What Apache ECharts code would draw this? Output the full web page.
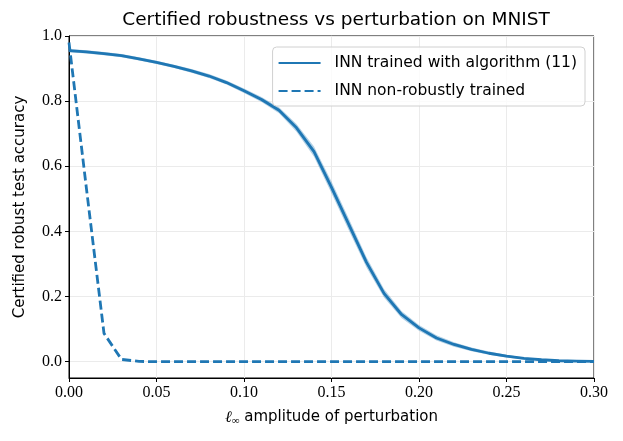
<!DOCTYPE html>
<html>
<head>
<meta charset="utf-8">
<script src="https://cdn.jsdelivr.net/npm/echarts@6/dist/echarts.min.js"></script>
<style>html,body{margin:0;padding:0;background:#fff}</style>
</head>
<body>
<div id="main" style="width:623px;height:441px"></div>
<script>
// perturbation amplitude (l_inf)
const eps = [0.00, 0.01, 0.02, 0.03, 0.04, 0.05, 0.06, 0.07, 0.08, 0.09, 0.10,
             0.11, 0.12, 0.13, 0.14, 0.15, 0.16, 0.17, 0.18, 0.19, 0.20,
             0.21, 0.22, 0.23, 0.24, 0.25, 0.26, 0.27, 0.28, 0.29, 0.30];
// INN trained with algorithm (11), mean and spread
const robustAcc = [0.955, 0.951, 0.946, 0.940, 0.930, 0.919, 0.907, 0.893, 0.877, 0.857, 0.832,
                   0.805, 0.772, 0.718, 0.645, 0.535, 0.420, 0.305, 0.210, 0.145, 0.104,
                   0.073, 0.053, 0.038, 0.026, 0.017, 0.010, 0.006, 0.003, 0.002, 0.001];
const robustStd = [0.005, 0.005, 0.005, 0.005, 0.005, 0.005, 0.005, 0.006, 0.006, 0.006, 0.007,
                   0.008, 0.009, 0.012, 0.016, 0.018, 0.018, 0.016, 0.013, 0.011, 0.009,
                   0.008, 0.007, 0.006, 0.005, 0.004, 0.003, 0.002, 0.002, 0.001, 0.001];
// INN non-robustly trained
const plainAcc = [0.980, 0.530, 0.087, 0.007, 0.001, 0, 0, 0, 0, 0, 0,
                  0, 0, 0, 0, 0, 0, 0, 0, 0, 0,
                  0, 0, 0, 0, 0, 0, 0, 0, 0, 0];
const yTicks = [0, 0.2, 0.4, 0.6, 0.8, 1.0];
const names = ['INN trained with algorithm (11)', 'INN non-robustly trained'];

const blue = '#1f77b4';
const serif = '"Liberation Serif", "DejaVu Serif", serif';
const sans = '"DejaVu Sans", sans-serif';

const pair = arr => arr.map((v, i) => [eps[i], v]);
const bandData = robustAcc.map((v, i) => [eps[i], v - robustStd[i], v + robustStd[i]]);

// shaded spread: polygon through upper edge then back along lower edge
function renderBand(params, api) {
  if (params.dataIndex !== 0) return;
  const up = [], lo = [];
  for (let i = 0; i < bandData.length; i++) {
    up.push(api.coord([bandData[i][0], bandData[i][2]]));
    lo.push(api.coord([bandData[i][0], bandData[i][1]]));
  }
  return {
    type: 'polygon',
    shape: { points: up.concat(lo.reverse()) },
    style: { fill: blue, opacity: 0.35 },
    silent: true
  };
}

const chart = echarts.init(document.getElementById('main'));
chart.setOption({
  animation: false,
  title: {
    text: 'Certified robustness vs perturbation on MNIST',
    left: 331, top: 6, textAlign: 'center',
    textStyle: { fontFamily: sans, fontSize: 18.5, fontWeight: 'normal', color: '#000' }
  },
  grid: {
    left: 69, right: 29, top: 36, bottom: 63,
    show: true, borderColor: '#000', borderWidth: 1
  },
  legend: {
    data: names,
    orient: 'vertical',
    right: 38, top: 47,
    itemWidth: 42, itemHeight: 14, itemGap: 12,
    padding: [8, 8, 7, 5],
    itemStyle: { opacity: 0 },
    backgroundColor: 'rgba(255,255,255,0.8)',
    borderColor: '#d0d0d0', borderWidth: 1, borderRadius: 4,
    textStyle: { fontFamily: sans, fontSize: 15.5, color: '#000', padding: [0, 0, 0, 9] }
  },
  xAxis: {
    type: 'value', min: 0, max: 0.3, interval: 0.05,
    name: '{l|ℓ}{s|∞} amplitude of perturbation',
    nameLocation: 'middle', nameGap: 30,
    nameTextStyle: {
      fontFamily: sans, fontSize: 15, color: '#000',
      rich: {
        l: { fontFamily: serif, fontStyle: 'italic', fontSize: 16, color: '#000' },
        s: { fontFamily: serif, fontSize: 11, color: '#000', padding: [8, 0, 0, 0] }
      }
    },
    axisLine: { onZero: false, lineStyle: { color: '#000' } },
    axisTick: { length: 4, lineStyle: { color: '#000' } },
    axisLabel: { fontFamily: serif, fontSize: 16, color: '#000', margin: 7,
                 formatter: v => v.toFixed(2) },
    splitLine: { lineStyle: { color: '#ebebeb' } }
  },
  yAxis: {
    type: 'value', min: -0.05, max: 1.0,
    name: 'Certified robust test accuracy',
    nameLocation: 'middle', nameGap: 41,
    nameTextStyle: { fontFamily: sans, fontSize: 15, color: '#000' },
    axisLine: { show: true, onZero: false, lineStyle: { color: '#000' } },
    axisTick: { show: true, length: 4, customValues: yTicks, lineStyle: { color: '#000' } },
    axisLabel: { fontFamily: serif, fontSize: 16, color: '#000', margin: 7,
                 customValues: yTicks, formatter: v => v.toFixed(1) },
    splitLine: { show: true, lineStyle: { color: '#ebebeb' } }
  },
  series: [
    {
      name: 'band', type: 'custom', data: bandData,
      renderItem: renderBand, silent: true,
      encode: { x: 0, y: [1, 2] }
    },
    {
      name: names[0], type: 'line', data: pair(robustAcc),
      symbol: 'none', color: blue,
      lineStyle: { color: blue, width: 2.8 }
    },
    {
      name: names[1], type: 'line', data: pair(plainAcc),
      symbol: 'none', color: blue,
      lineStyle: { color: blue, width: 2.8, type: [9, 4] }
    }
  ]
});
</script>
</body>
</html>
